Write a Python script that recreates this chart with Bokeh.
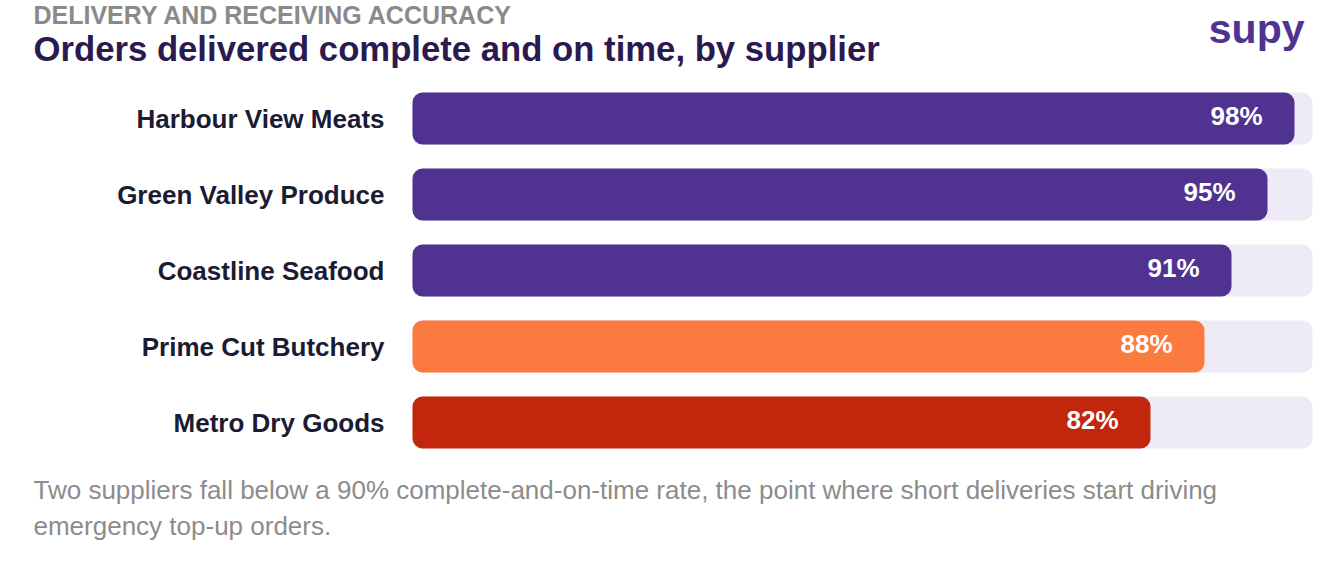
from bokeh.plotting import figure
from bokeh.models import Range1d, ColumnDataSource
from bokeh.core.properties import value
from bokeh.embed import file_html
from bokeh.resources import INLINE

suppliers = ["Harbour View Meats", "Green Valley Produce", "Coastline Seafood",
             "Prime Cut Butchery", "Metro Dry Goods"]
rates = [98, 95, 91, 88, 82]
value_labels = ["98%", "95%", "91%", "88%", "82%"]

eyebrow = "DELIVERY AND RECEIVING ACCURACY"
title = "Orders delivered complete and on time, by supplier"
note_lines = ["Two suppliers fall below a 90% complete-and-on-time rate, the point where short deliveries start driving",
              "emergency top-up orders."]
logo = "supy"

PURPLE = "#503390"
ORANGE = "#fa7a40"
RED = "#c2260c"
TRACK = "#efebf6"

def bar_color(v):
    if v >= 90:
        return PURPLE
    if v >= 85:
        return ORANGE
    return RED

W, H = 1328, 556
X0, XS = 412, 9.0       # px of 0%, px per percent
Y0, YS = 118, 76.0      # px of first row centre, px per row

def dx(px):  # page px -> data x
    return (px - X0) / XS

def dy(py):  # page px -> data y
    return (py - Y0) / YS

p = figure(width=W, height=H, output_backend="svg", toolbar_location=None,
           x_axis_location=None, y_axis_location=None,
           x_range=Range1d(-X0 / XS, (W - X0) / XS),
           y_range=Range1d((H - Y0) / YS, -Y0 / YS),
           min_border=0, outline_line_color=None, background_fill_color="white",
           border_fill_color="white")
p.grid.visible = False

rows = list(range(len(suppliers)))
src = ColumnDataSource(dict(y=rows, name=suppliers, rate=rates, lab=value_labels,
                            full=[100] * len(rates), color=[bar_color(v) for v in rates]))

BH = 52 / YS
p.hbar(y="y", left=0, right="full", height=BH, source=src, fill_color=TRACK,
       line_color=None, border_radius=10)
p.hbar(y="y", left=0, right="rate", height=BH, source=src, fill_color="color",
       line_color=None, border_radius=10)

p.text(x=0, y="y", text="name", source=src, x_offset=-28, text_align="right",
       text_baseline="middle", text_font=value("Liberation Sans"), text_font_style="bold",
       text_font_size="26px", text_color="#1b1b33")
p.text(x="rate", y="y", text="lab", source=src, x_offset=-32, y_offset=-3, text_align="right",
       text_baseline="middle", text_font=value("Liberation Sans"), text_font_style="bold",
       text_font_size="26px", text_color="white")

p.text(x=[dx(33)], y=[dy(14)], text=[eyebrow], text_align="left", text_baseline="middle",
       text_font=value("Liberation Sans"), text_font_style="bold", text_font_size="25px",
       text_color="#8a8a8a")
p.text(x=[dx(33)], y=[dy(48)], text=[title], text_align="left", text_baseline="middle",
       text_font=value("Liberation Sans"), text_font_style="bold", text_font_size="34.7px",
       text_color="#2b1a4f")
p.text(x=[dx(1304)], y=[dy(28)], text=[logo], text_align="right", text_baseline="middle",
       text_font=value("Liberation Sans"), text_font_style="bold", text_font_size="41px",
       text_color=PURPLE)
p.text(x=[dx(33)] * 2, y=[dy(489), dy(525)], text=note_lines, text_align="left",
       text_baseline="middle", text_font=value("Liberation Sans"),
       text_font_size="26px", text_color="#8c8c8c")

open("out.html", "w").write(file_html(p, INLINE))
